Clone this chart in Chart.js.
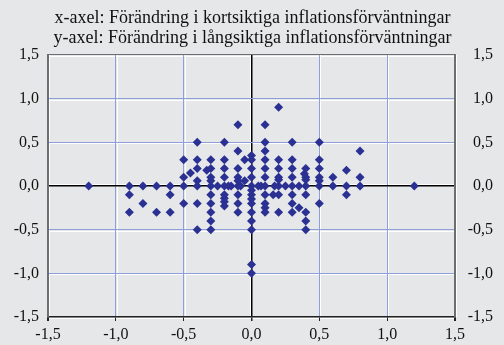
<!DOCTYPE html>
<html lang="sv">
<head>
<meta charset="utf-8">
<script src="https://cdn.jsdelivr.net/npm/chart.js@4/dist/chart.umd.min.js"></script>
<style>
  html, body { margin: 0; padding: 0; background: #e6e7e9; }
  canvas { display: block; }
</style>
</head>
<body>
<canvas id="chart" width="504" height="345"></canvas>
<script>
const titleLines = [
  'x-axel: Förändring i kortsiktiga inflationsförväntningar',
  'y-axel: Förändring i långsiktiga inflationsförväntningar'
];
const axisMin = -1.5;
const axisMax = 1.5;
const axisStep = 0.5;

// parvisa svar: kortsiktig förändring (x) och långsiktig förändring (y)
const shortTerm = [
  // y = 0
  -1.2, -0.9, -0.8, -0.7, -0.6, -0.5, -0.4, -0.3, -0.25, -0.2, -0.17, -0.15, -0.1, -0.08,
  0, 0.05, 0.07, 0.1, 0.17, 0.2, 0.25, 0.3, 0.35, 0.4, 0.5, 0.6, 0.7, 0.8, 1.2,
  // vänster sida
  -0.9, -0.9, -0.8, -0.7, -0.6, -0.6,
  -0.5, -0.5, -0.5, -0.45,
  -0.4, -0.4, -0.4, -0.4, -0.4, -0.4, -0.33,
  -0.3, -0.3, -0.3, -0.3, -0.3, -0.3, -0.3, -0.3, -0.3,
  -0.2, -0.2, -0.2, -0.2, -0.2, -0.2, -0.2, -0.2,
  -0.1, -0.1, -0.1, -0.1, -0.1, -0.1, -0.1, -0.1,
  -0.05, -0.05,
  // x = 0
  0, 0, 0, 0, 0, 0, 0, 0, 0, 0, 0, 0, 0,
  // höger sida
  0.1, 0.1, 0.1, 0.1, 0.1, 0.1, 0.1, 0.1, 0.1, 0.1, 0.16,
  0.2, 0.2, 0.2, 0.2, 0.2, 0.2, 0.2,
  0.3, 0.3, 0.3, 0.3, 0.3, 0.3, 0.3, 0.35, 0.39,
  0.4, 0.4, 0.4, 0.4, 0.4, 0.4, 0.4,
  0.5, 0.5, 0.5, 0.5, 0.5, 0.5,
  0.6, 0.7, 0.7, 0.8, 0.8
];
const longTerm = [
  0, 0, 0, 0, 0, 0, 0, 0, 0, 0, 0, 0, 0, 0,
  0, 0, 0, 0, 0, 0, 0, 0, 0, 0, 0, 0, 0, 0, 0,
  -0.1, -0.3, -0.2, -0.3, -0.1, -0.3,
  0.3, 0.1, -0.2, 0.15,
  0.5, 0.3, 0.2, 0.06, -0.2, -0.5, 0.18,
  0.3, 0.2, 0.1, 0.06, -0.1, -0.2, -0.3, -0.4, -0.5,
  0.5, 0.3, 0.2, 0.1, -0.1, -0.14, -0.18, -0.23,
  0.7, 0.4, 0.2, 0.1, 0.06, -0.1, -0.2, -0.3,
  0.3, 0.06,
  0.35, 0.3, 0.2, 0.1, -0.05, -0.1, -0.15, -0.2, -0.3, -0.4, -0.5, -0.9, -1.0,
  0.7, 0.5, 0.4, 0.3, 0.2, 0.1, -0.1, -0.2, -0.25, -0.3, -0.1,
  0.9, 0.3, 0.2, 0.1, 0.07, -0.1, -0.3,
  0.5, 0.3, 0.2, 0.1, -0.1, -0.2, -0.3, -0.25, 0.14,
  0.2, 0.1, 0.07, -0.1, -0.3, -0.4, -0.5,
  0.5, 0.3, 0.2, 0.1, 0.06, -0.2,
  0.1, 0.18, -0.1, 0.4, 0.1
];

const points = shortTerm.map((x, i) => ({ x: x, y: longTerm[i] }));

const serif = "'Liberation Serif', 'Times New Roman', serif";
const gridBlue = '#8c9fd8';
const frameGrey = '#6e6e72';

function commaLabel(value) {
  return value.toFixed(1).replace('.', ',');
}

function gridColor(ctx) {
  const v = ctx.tick.value;
  if (v === 0) return '#000000';
  if (Math.abs(v) === axisMax) return frameGrey;
  return gridBlue;
}

// vita ränder bredvid stödlinjerna, ritas under dem
const whiteEdges = {
  id: 'whiteEdges',
  beforeDraw(chart) {
    const { ctx, chartArea: a, scales } = chart;
    ctx.save();
    ctx.strokeStyle = '#ffffff';
    ctx.lineWidth = 1;
    scales.x.ticks.forEach(t => {
      const px = Math.round(scales.x.getPixelForValue(t.value));
      const off = t.value === 0 ? -1.5 : 1.5;
      ctx.beginPath();
      ctx.moveTo(px + off, a.top);
      ctx.lineTo(px + off, a.bottom);
      ctx.stroke();
    });
    scales.y.ticks.forEach(t => {
      const py = Math.round(scales.y.getPixelForValue(t.value));
      const off = t.value === 0 ? -1.5 : 1.5;
      ctx.beginPath();
      ctx.moveTo(a.left, py + off);
      ctx.lineTo(a.right, py + off);
      ctx.stroke();
    });
    ctx.restore();
  }
};

new Chart(document.getElementById('chart'), {
  type: 'scatter',
  data: {
    datasets: [{
      data: points,
      pointStyle: 'rectRot',
      pointRadius: 4.5,
      pointHoverRadius: 4.5,
      backgroundColor: '#2b3192',
      borderColor: '#2b3192',
      borderWidth: 0
    }]
  },
  options: {
    responsive: false,
    animation: false,
    layout: { padding: { left: 12, right: 11, top: 0, bottom: 0 } },
    plugins: {
      legend: { display: false },
      tooltip: { enabled: false },
      title: {
        display: true,
        text: titleLines,
        color: '#111111',
        font: { family: serif, size: 18, weight: 'normal', lineHeight: 1.11 },
        padding: { top: 8, bottom: 7 }
      }
    },
    scales: {
      x: {
        type: 'linear',
        min: axisMin,
        max: axisMax,
        ticks: {
          stepSize: axisStep,
          color: '#111111',
          font: { family: serif, size: 16 },
          padding: 4,
          maxRotation: 0,
          callback: v => commaLabel(v)
        },
        grid: {
          color: gridColor,
          lineWidth: ctx => (ctx.tick.value === 0 ? 1.5 : (Math.abs(ctx.tick.value) === axisMax ? 2 : 1)),
          drawTicks: true,
          tickLength: 4,
          tickColor: '#222222'
        },
        border: { display: true, color: '#222222', width: 1.5 },
        afterFit: s => { s.height = 28; }
      },
      y: {
        type: 'linear',
        position: 'left',
        min: axisMin,
        max: axisMax,
        ticks: {
          stepSize: axisStep,
          color: '#111111',
          font: { family: serif, size: 16 },
          padding: 9,
          callback: v => commaLabel(v)
        },
        grid: {
          color: gridColor,
          lineWidth: ctx => (ctx.tick.value === 0 ? 1.5 : 1),
          drawTicks: false
        },
        border: { display: true, color: frameGrey, width: 2 },
        afterFit: s => { s.width = 36; }
      },
      y2: {
        type: 'linear',
        position: 'right',
        min: axisMin,
        max: axisMax,
        ticks: {
          stepSize: axisStep,
          color: '#111111',
          font: { family: serif, size: 16 },
          padding: 9,
          crossAlign: 'far',
          callback: v => commaLabel(v)
        },
        grid: { display: false, drawTicks: false },
        border: { display: true, color: frameGrey, width: 2 },
        afterFit: s => { s.width = 38; }
      }
    }
  },
  plugins: [whiteEdges]
});
</script>
</body>
</html>
